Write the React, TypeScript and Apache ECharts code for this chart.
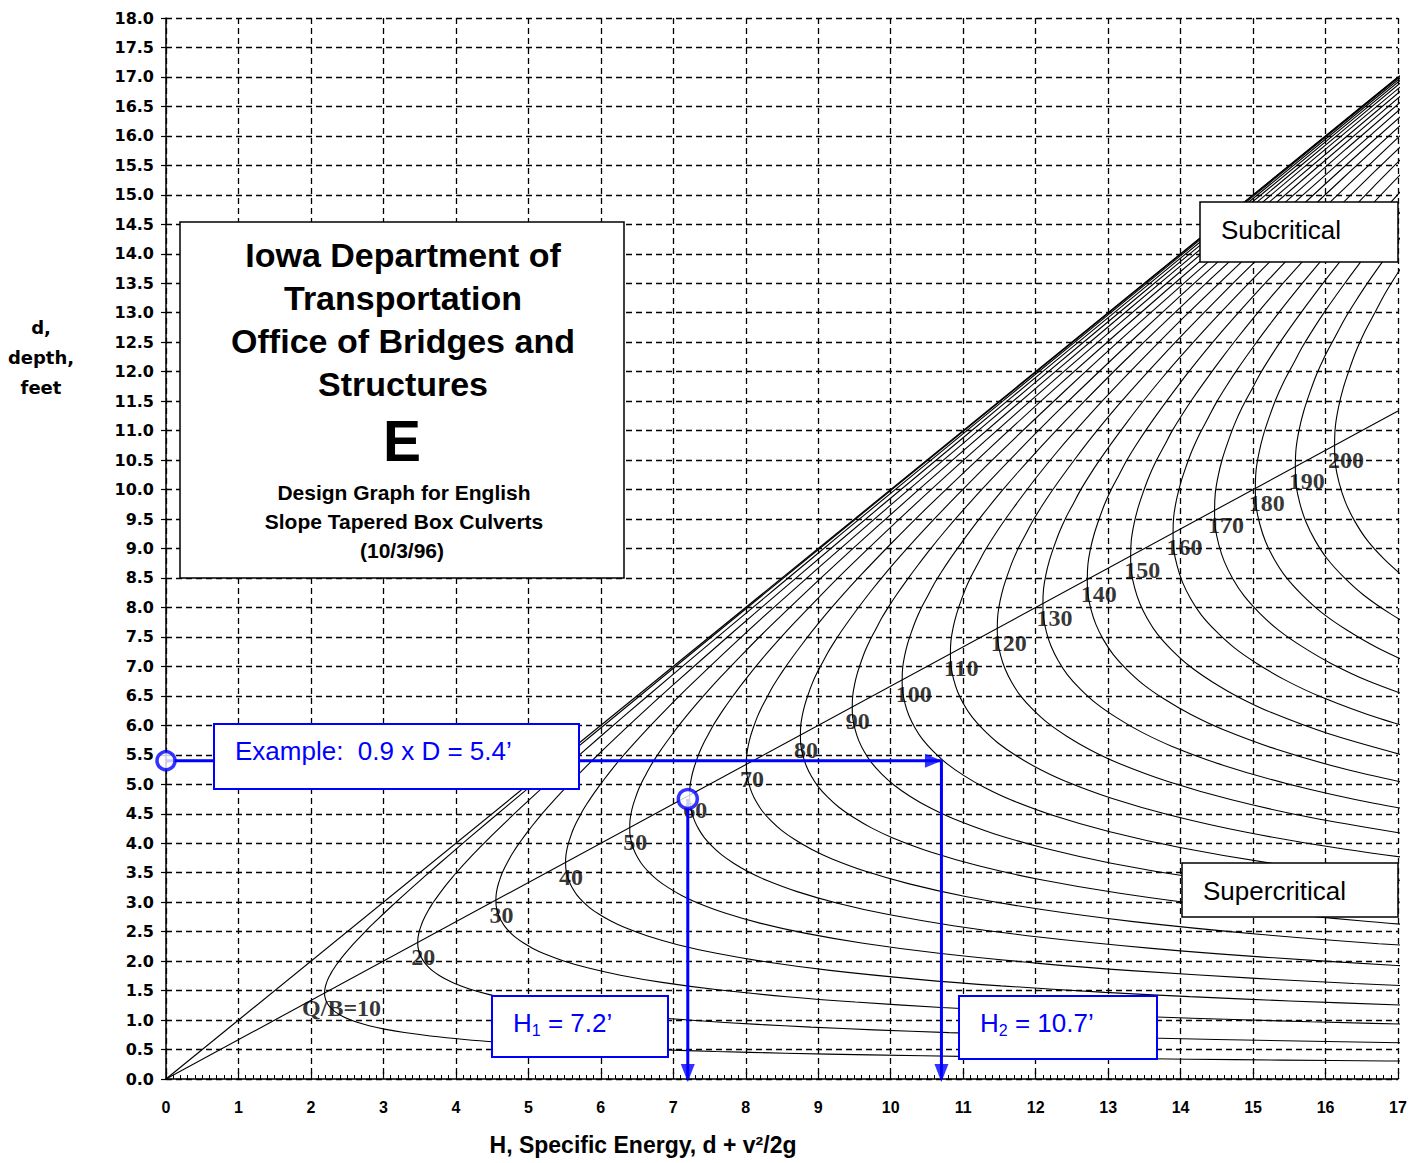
import React, { useEffect, useRef } from "react";
import * as echarts from "echarts";

// Q/B values of the curves
const flowPerWidth = [10, 20, 30, 40, 50, 60, 70, 80, 90, 100, 110, 120, 130, 140, 150, 160, 170, 180, 190, 200];
const curveLabels = ["Q/B=10", "20", "30", "40", "50", "60", "70", "80", "90", "100", "110", "120", "130", "140", "150", "160", "170", "180", "190", "200"];
// critical depth (nose of each curve), feet
const criticalDepth = [1.459, 2.316, 3.035, 3.676, 4.266, 4.817, 5.339, 5.836, 6.313, 6.772, 7.216, 7.647, 8.067, 8.475, 8.874, 9.264, 9.646, 10.021, 10.389, 10.75];
// common (dimensionless) shape of the specific-energy curves: depth / critical depth and energy / critical depth
const unitDepth = [0.2, 0.21, 0.22, 0.23, 0.24, 0.25, 0.26, 0.28, 0.3, 0.32, 0.34, 0.36, 0.38, 0.4, 0.43, 0.46, 0.5, 0.54, 0.58, 0.62, 0.66, 0.7, 0.73, 0.76, 0.79, 0.82, 0.85, 0.88, 0.91, 0.94, 0.97, 1.0, 1.03, 1.06, 1.09, 1.12, 1.15, 1.18, 1.21, 1.24, 1.27, 1.3, 1.34, 1.38, 1.42, 1.47, 1.52, 1.6, 1.7, 1.8, 2.0, 2.2, 2.5, 2.8, 3.2, 3.6, 4.0, 5.0, 6.0, 7.0, 8.5, 10.0, 12.0];
const unitEnergy = [12.7, 11.548, 10.551, 9.682, 8.921, 8.25, 7.656, 6.658, 5.856, 5.203, 4.665, 4.218, 3.843, 3.525, 3.134, 2.823, 2.5, 2.255, 2.066, 1.921, 1.808, 1.72, 1.668, 1.626, 1.591, 1.564, 1.542, 1.526, 1.514, 1.506, 1.501, 1.5, 1.501, 1.505, 1.511, 1.519, 1.528, 1.539, 1.552, 1.565, 1.58, 1.596, 1.619, 1.643, 1.668, 1.701, 1.736, 1.795, 1.873, 1.954, 2.125, 2.303, 2.58, 2.864, 3.249, 3.639, 4.031, 5.02, 6.014, 7.01, 8.507, 10.005, 12.004];

const equalDepthLine = [[0, 0], [17, 17]];
const criticalLine = [[0, 0], [17, 11.333]];

const exampleDepth = 5.4;
const h1Energy = 7.2;
const h1Depth = 4.75;
const h2Energy = 10.7;

const X_MAX = 17;
const Y_MAX = 18;

const BLUE = "#0000ff";

function curvePoints(dc: number) {
  const pts = unitDepth.map((r, i) => [unitEnergy[i] * dc, r * dc]);
  return pts.filter(
    (p, i) =>
      p[0] <= X_MAX ||
      (i > 0 && pts[i - 1][0] <= X_MAX) ||
      (i < pts.length - 1 && pts[i + 1][0] <= X_MAX)
  );
}

const ARROW_DOWN = "path://M0,0 L14,0 L7,18 Z";
const ARROW_RIGHT = "path://M0,0 L17,7 L0,14 Z";

function buildOption() {
  const dash = { color: "#000", type: [6, 4] as any, width: 1.3 };
  const curveSeries = flowPerWidth.map((q, i) => ({
    type: "line",
    name: "q" + q,
    data: curvePoints(criticalDepth[i]),
    showSymbol: false,
    smooth: 0.3,
    silent: true,
    lineStyle: { color: "#000", width: 1.1 },
    z: 3,
  }));

  const blackText = (x: number, y: number, text: string, size: number, weight = "bold", family = "Liberation Sans") => ({
    type: "text",
    x,
    y,
    z: 101,
    style: {
      text,
      fontSize: size,
      fontWeight: weight,
      fontFamily: family,
      fill: "#000",
      align: "center",
      verticalAlign: "middle",
    },
  });

  const subText = (x: number, sub: string, rest: string) => ({
    type: "text",
    z: 101,
    x,
    y: 1023,
    style: {
      text: "{a|H}{s|" + sub + "}{a|" + rest + "}",
      fill: BLUE,
      align: "left",
      verticalAlign: "middle",
      rich: {
        a: { fontSize: 26, fontFamily: "Liberation Sans", fill: BLUE, lineHeight: 30 },
        s: { fontSize: 16, fontFamily: "Liberation Sans", fill: BLUE, verticalAlign: "bottom", lineHeight: 30 },
      },
    },
  });

  return {
    animation: false,
    backgroundColor: "#fff",
    grid: { left: 166, top: 18, width: 1232, height: 1061, containLabel: false },
    xAxis: {
      type: "value",
      min: 0,
      max: X_MAX,
      interval: 1,
      axisLine: { lineStyle: { color: "#000", width: 1.5 } },
      axisTick: { inside: true, length: 7, lineStyle: { color: "#000", width: 1.2 } },
      minorTick: { show: true, splitNumber: 10, length: 4, lineStyle: { color: "#000", width: 1 } },
      axisLabel: { color: "#000", fontSize: 16, fontWeight: "bold", fontFamily: "Liberation Sans", margin: 20 },
      splitLine: { show: true, lineStyle: dash },
    },
    yAxis: {
      type: "value",
      min: 0,
      max: Y_MAX,
      interval: 0.5,
      axisLine: { lineStyle: { color: "#000", width: 1.5 } },
      axisTick: { length: 5, lineStyle: { color: "#000", width: 1.2 } },
      axisLabel: {
        color: "#000",
        fontSize: 16,
        fontWeight: "bold",
        fontFamily: "DejaVu Sans",
        margin: 12,
        formatter: (v: number) => v.toFixed(1),
      },
      splitLine: { show: true, lineStyle: dash },
    },
    series: [
      {
        type: "line",
        data: equalDepthLine,
        showSymbol: false,
        silent: true,
        lineStyle: { color: "#000", width: 1.2 },
        z: 3,
      },
      {
        type: "line",
        data: criticalLine,
        showSymbol: false,
        silent: true,
        lineStyle: { color: "#000", width: 1.1 },
        z: 3,
      },
      ...curveSeries,
      {
        type: "scatter",
        silent: true,
        symbol: "circle",
        symbolSize: 1,
        itemStyle: { color: "transparent" },
        z: 4,
        data: flowPerWidth.map((q, i) => ({
          value: [1.5 * criticalDepth[i], criticalDepth[i]],
          label: { position: i === 0 ? [-22, 15] : [-6, 15] },
        })),
        label: {
          show: true,
          position: [-6, 15],
          align: "left",
          verticalAlign: "middle",
          formatter: (p: any) => curveLabels[p.dataIndex],
          fontFamily: "Liberation Serif",
          fontWeight: "bold",
          fontSize: 24,
          color: "#000",
        },
      },
      {
        type: "line",
        data: [[0, exampleDepth], [h2Energy, exampleDepth], [h2Energy, 0]],
        showSymbol: false,
        silent: true,
        clip: false,
        lineStyle: { color: BLUE, width: 3 },
        z: 6,
      },
      {
        type: "line",
        data: [[h1Energy, h1Depth], [h1Energy, 0]],
        showSymbol: false,
        silent: true,
        clip: false,
        lineStyle: { color: BLUE, width: 3 },
        z: 6,
      },
      {
        type: "scatter",
        silent: true,
        clip: false,
        z: 7,
        itemStyle: { color: BLUE },
        data: [
          { value: [h2Energy, exampleDepth], symbol: ARROW_RIGHT, symbolSize: [17, 14], symbolOffset: [-8, 0] },
          { value: [h2Energy, 0], symbol: ARROW_DOWN, symbolSize: [14, 18], symbolOffset: [0, -6] },
          { value: [h1Energy, 0], symbol: ARROW_DOWN, symbolSize: [14, 18], symbolOffset: [0, -6] },
        ],
      },
      {
        type: "scatter",
        silent: true,
        clip: false,
        z: 8,
        symbol: "circle",
        itemStyle: { color: "#fff", borderColor: BLUE, borderWidth: 3.5 },
        data: [
          { value: [0, exampleDepth], symbolSize: 18 },
          { value: [h1Energy, h1Depth], symbolSize: 19 },
        ],
      },
    ],
    graphic: [
      // title box
      {
        type: "rect",
        z: 100,
        shape: { x: 180, y: 222, width: 444, height: 356 },
        style: { fill: "#fff", stroke: "#000", lineWidth: 1.5 },
      },
      blackText(403, 255, "Iowa Department of", 34),
      blackText(403, 298, "Transportation", 34),
      blackText(403, 341, "Office of Bridges and", 34),
      blackText(403, 384, "Structures", 34),
      blackText(402, 441, "E", 57),
      blackText(404, 492, "Design Graph for English", 21),
      blackText(404, 521, "Slope Tapered Box Culverts", 21),
      blackText(402, 550, "(10/3/96)", 21),
      // subcritical / supercritical boxes
      {
        type: "rect",
        z: 100,
        shape: { x: 1200, y: 202, width: 198, height: 60 },
        style: { fill: "#fff", stroke: "#000", lineWidth: 1.5 },
      },
      {
        type: "text",
        z: 101,
        x: 1221,
        y: 230,
        style: { text: "Subcritical", fontSize: 26, fontFamily: "Liberation Sans", fill: "#000", align: "left", verticalAlign: "middle" },
      },
      {
        type: "rect",
        z: 100,
        shape: { x: 1182, y: 863, width: 216, height: 54 },
        style: { fill: "#fff", stroke: "#000", lineWidth: 1.5 },
      },
      {
        type: "text",
        z: 101,
        x: 1203,
        y: 891,
        style: { text: "Supercritical", fontSize: 26, fontFamily: "Liberation Sans", fill: "#000", align: "left", verticalAlign: "middle" },
      },
      // example boxes
      {
        type: "rect",
        z: 100,
        shape: { x: 214, y: 724, width: 365, height: 65 },
        style: { fill: "#fff", stroke: BLUE, lineWidth: 2 },
      },
      {
        type: "text",
        z: 101,
        x: 235,
        y: 751,
        style: { text: "Example:  0.9 x D = 5.4\u2019", fontSize: 26, fontFamily: "Liberation Sans", fill: BLUE, align: "left", verticalAlign: "middle" },
      },
      {
        type: "rect",
        z: 100,
        shape: { x: 492, y: 996, width: 176, height: 61 },
        style: { fill: "#fff", stroke: BLUE, lineWidth: 2 },
      },
      subText(513, "1", " = 7.2\u2019"),
      {
        type: "rect",
        z: 100,
        shape: { x: 959, y: 996, width: 198, height: 63 },
        style: { fill: "#fff", stroke: BLUE, lineWidth: 2 },
      },
      subText(980, "2", " = 10.7\u2019"),
      // axis titles
      {
        type: "text",
        z: 101,
        x: 41,
        y: 357,
        style: {
          text: "d,\ndepth,\nfeet",
          fontSize: 18,
          fontWeight: "bold",
          fontFamily: "DejaVu Sans",
          lineHeight: 30,
          fill: "#000",
          align: "center",
          verticalAlign: "middle",
        },
      },
      {
        type: "text",
        z: 101,
        x: 643,
        y: 1145,
        style: {
          text: "H, Specific Energy, d + v\u00b2/2g",
          fontSize: 23,
          fontWeight: "bold",
          fontFamily: "Liberation Sans",
          fill: "#000",
          align: "center",
          verticalAlign: "middle",
        },
      },
    ],
  };
}

export default function App() {
  const ref = useRef<HTMLDivElement>(null);
  useEffect(() => {
    if (!ref.current) return;
    const chart = echarts.init(ref.current, null, { renderer: "svg" });
    chart.setOption(buildOption() as any);
    return () => chart.dispose();
  }, []);
  return (
    <div
      ref={ref}
      style={{ position: "absolute", left: 0, top: 0, width: 1421, height: 1163, background: "#fff" }}
    />
  );
}
